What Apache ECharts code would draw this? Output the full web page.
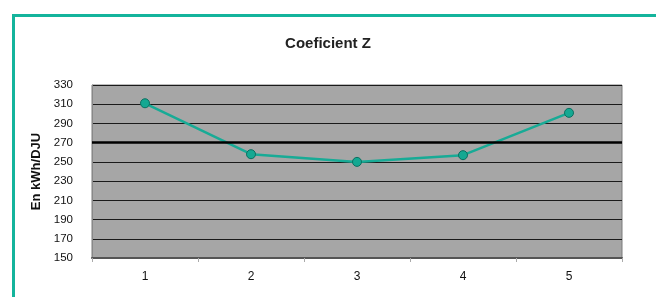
<!DOCTYPE html>
<html>
<head>
<meta charset="utf-8">
<script src="https://cdn.jsdelivr.net/npm/echarts@6/dist/echarts.min.js"></script>
<style>
    html, body { margin:0; padding:0; background:#fff; }
    #frame { position:absolute; left:12px; top:14px; width:644px; height:283px;
             border-left:3px solid #14b49c; border-top:3px solid #14b49c; box-sizing:border-box; }
    #coefZ { position:absolute; left:0; top:0; width:656px; height:297px; }
</style>
</head>
<body>
<div id="frame"></div>
<div id="coefZ"></div>
<script>
// categories and values
var categories = ['1', '2', '3', '4', '5'];
var coefZ = [311, 258, 250, 257, 301];
var refValue = 270;
var yTicks = [150, 170, 190, 210, 230, 250, 270, 290, 310, 330];

coefZChart = echarts.init(document.getElementById('coefZ'));
coefZChart.setOption({
    animation: false,
    textStyle: { fontFamily: 'Liberation Sans' },
    title: {
        text: 'Coeficient Z',
        left: 'center',
        top: 31,
        textStyle: { fontSize: 15, fontWeight: 'bold', color: '#222', fontFamily: 'Liberation Sans' }
    },
    grid: {
        left: 92,
        right: 34,
        top: 85,
        bottom: 39,
        show: true,
        backgroundColor: '#a6a6a6',
        borderColor: '#7a7a7a',
        borderWidth: 1
    },
    xAxis: {
        type: 'category',
        data: categories,
        boundaryGap: true,
        axisLine: { show: true, lineStyle: { color: '#555', width: 2 } },
        axisTick: { show: true, length: 4, lineStyle: { color: '#aaa' } },
        axisLabel: { color: '#111', fontSize: 12, margin: 13 }
    },
    yAxis: {
        type: 'value',
        min: yTicks[0],
        max: yTicks[yTicks.length - 1],
        interval: 20,
        name: 'En kWh/DJU',
        nameLocation: 'middle',
        nameGap: 45,
        nameRotate: 90,
        nameTextStyle: { fontSize: 13, fontWeight: 'bold', color: '#111' },
        axisLine: { show: true, lineStyle: { color: '#888' } },
        axisTick: { show: false },
        axisLabel: { color: '#111', fontSize: 11.5, margin: 19 },
        splitLine: { show: true, lineStyle: { color: '#1a1a1a', width: 1 } }
    },
    series: [
    {
        name: 'Coeficient Z',
        type: 'line',
        data: coefZ,
        symbol: 'circle',
        symbolSize: 9,
        itemStyle: { color: '#14a892', borderColor: '#0b6f60', borderWidth: 1 },
        lineStyle: { color: '#18ab96', width: 2.5 },
        markLine: {
            silent: true,
            symbol: 'none',
            label: { show: false },
            lineStyle: { color: '#000', width: 2.5, type: 'solid' },
            data: [{ yAxis: refValue }]
        }
    }]
});
</script>
</body>
</html>
